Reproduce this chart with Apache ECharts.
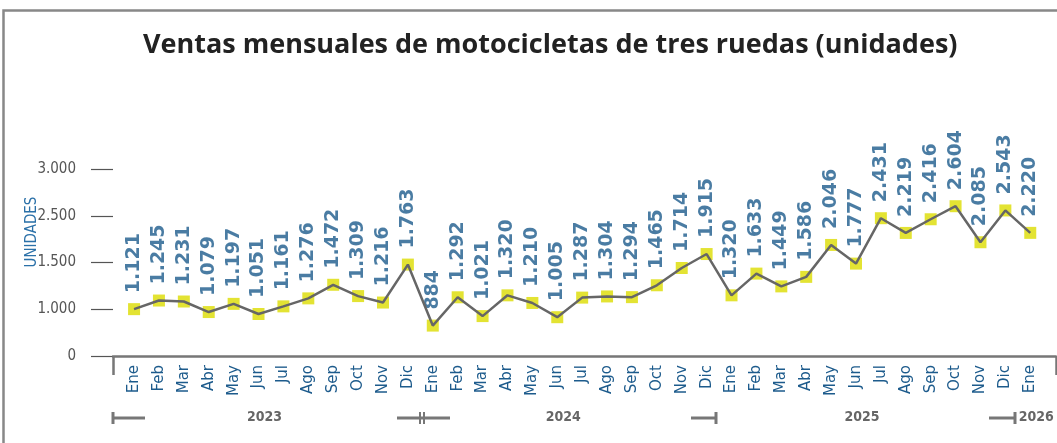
<!DOCTYPE html>
<html>
<head>
<meta charset="utf-8">
<script src="https://cdn.jsdelivr.net/npm/echarts@6/dist/echarts.min.js"></script>
<style>
  html, body { margin: 0; padding: 0; background: #fff; }
  #main { width: 1057px; height: 443px; }
</style>
</head>
<body>
<div id="main"></div>
<script>
// meses (Ene 2023 - Ene 2026)
var months = ['Ene', 'Feb', 'Mar', 'Abr', 'May', 'Jun', 'Jul', 'Ago', 'Sep', 'Oct', 'Nov', 'Dic',
    'Ene', 'Feb', 'Mar', 'Abr', 'May', 'Jun', 'Jul', 'Ago', 'Sep', 'Oct', 'Nov', 'Dic',
    'Ene', 'Feb', 'Mar', 'Abr', 'May', 'Jun', 'Jul', 'Ago', 'Sep', 'Oct', 'Nov', 'Dic',
    'Ene'];
var years = ['2023', '2024', '2025', '2026'];
// etiqueta del año sobre este indice de mes
var yearAt = [5, 17, 29, 36];
var ventas = [1121, 1245, 1231, 1079, 1197, 1051, 1161, 1276, 1472, 1309, 1216, 1763,
    884, 1292, 1021, 1320, 1210, 1005, 1287, 1304, 1294, 1465, 1714, 1915,
    1320, 1633, 1449, 1586, 2046, 1777, 2431, 2219, 2416, 2604, 2085, 2543,
    2220];
var yTicks = ['0', '1.000', '1.500', '2.500', '3.000'];

var yearRow = months.map(function (m, i) {
    var k = yearAt.indexOf(i);
    return k >= 0 ? years[k] : '';
});

function miles(v) {
    var s = String(v);
    return s.length > 3 ? s.slice(0, s.length - 3) + '.' + s.slice(-3) : s;
}

var myChart = echarts.init(document.getElementById('main'));

var grey = '#777';
var blue = '#1d5b8c';
var narrow = '"DejaVu Sans Condensed", "Liberation Sans", sans-serif';

var option = {
    animation: false,
    title: {
        text: 'Ventas mensuales de motocicletas de tres ruedas (unidades)',
        left: 138,
        top: 27,
        textStyle: { fontFamily: 'Open Sans', fontWeight: 'bold', fontSize: 27, color: '#222' }
    },
    grid: [
        { left: 113, right: 1, top: 169, bottom: 87 },
        { left: 121.6, right: 14.3, top: 169, bottom: 87 }
    ],
    xAxis: [
        {
            gridIndex: 0, type: 'value', min: 0, max: 1, interval: 1,
            axisLine: { show: true, lineStyle: { color: grey, width: 2.5 } },
            axisTick: { show: true, length: 19, lineStyle: { color: grey, width: 2.5 } },
            axisLabel: { show: false },
            splitLine: { show: false }
        },
        {
            gridIndex: 1, type: 'category', data: months, boundaryGap: true,
            axisLine: { show: false }, axisTick: { show: false },
            axisLabel: {
                interval: 0, rotate: 90, margin: 9,
                color: blue, fontFamily: 'DejaVu Sans', fontSize: 15
            }
        },
        {
            gridIndex: 1, type: 'category', data: yearRow, boundaryGap: true,
            position: 'bottom', offset: 48,
            axisLine: { show: false }, axisTick: { show: false },
            axisLabel: {
                interval: 0, margin: 6, padding: [0, 0, 0, 12],
                color: '#666', fontFamily: narrow, fontWeight: 'bold', fontSize: 14
            }
        }
    ],
    yAxis: [
        {
            gridIndex: 0, type: 'value', min: 0, max: 4, interval: 1, offset: 11,
            axisLine: { show: false },
            axisTick: { show: true, length: 22, lineStyle: { color: '#555', width: 1.2 } },
            axisLabel: {
                margin: 26, color: '#555', fontFamily: narrow, fontSize: 15,
                formatter: function (v) { return yTicks[v]; }
            },
            splitLine: { show: false }
        },
        {
            gridIndex: 1, type: 'value', min: 446, max: 3140, show: false
        }
    ],
    graphic: [
        {
            type: 'polyline', silent: true,
            shape: { points: [[3.5, 443], [3.5, 10.5], [1057, 10.5]] },
            style: { stroke: '#888', lineWidth: 2.5, fill: null }
        },
        {
            type: 'text', x: 32, y: 232, rotation: Math.PI / 2,
            style: {
                text: 'UNIDADES', fill: '#2a70a8', font: '15px ' + narrow,
                align: 'center', verticalAlign: 'middle'
            }
        },
        // marcas de la fila de años
        { type: 'line', shape: { x1: 113, y1: 418, x2: 145, y2: 418 }, style: { stroke: grey, lineWidth: 3 } },
        { type: 'line', shape: { x1: 113, y1: 412, x2: 113, y2: 424 }, style: { stroke: grey, lineWidth: 3 } },
        { type: 'line', shape: { x1: 397, y1: 418, x2: 450, y2: 418 }, style: { stroke: grey, lineWidth: 3 } },
        { type: 'line', shape: { x1: 420, y1: 412, x2: 420, y2: 424 }, style: { stroke: grey, lineWidth: 2 } },
        { type: 'line', shape: { x1: 424, y1: 412, x2: 424, y2: 424 }, style: { stroke: grey, lineWidth: 2 } },
        { type: 'line', shape: { x1: 691, y1: 418, x2: 716, y2: 418 }, style: { stroke: grey, lineWidth: 3 } },
        { type: 'line', shape: { x1: 716, y1: 412, x2: 716, y2: 424 }, style: { stroke: grey, lineWidth: 3 } },
        { type: 'line', shape: { x1: 989, y1: 418, x2: 1015, y2: 418 }, style: { stroke: grey, lineWidth: 3 } },
        { type: 'line', shape: { x1: 1015, y1: 412, x2: 1015, y2: 424 }, style: { stroke: grey, lineWidth: 3 } }
    ],
    series: [
        {
            type: 'scatter', xAxisIndex: 1, yAxisIndex: 1, data: ventas,
            symbol: 'rect', symbolSize: 12, z: 2,
            itemStyle: { color: '#dcdc00' },
            label: {
                show: true, position: 'top', distance: 10, rotate: 90,
                align: 'left', verticalAlign: 'middle',
                color: blue, fontFamily: 'DejaVu Sans', fontWeight: 'bold', fontSize: 19,
                formatter: function (p) { return miles(p.value); }
            }
        },
        {
            type: 'line', xAxisIndex: 1, yAxisIndex: 1, data: ventas,
            symbol: 'none', z: 3,
            lineStyle: { color: '#666', width: 2.5 }
        }
    ]
};

option && myChart.setOption(option);
</script>
</body>
</html>
